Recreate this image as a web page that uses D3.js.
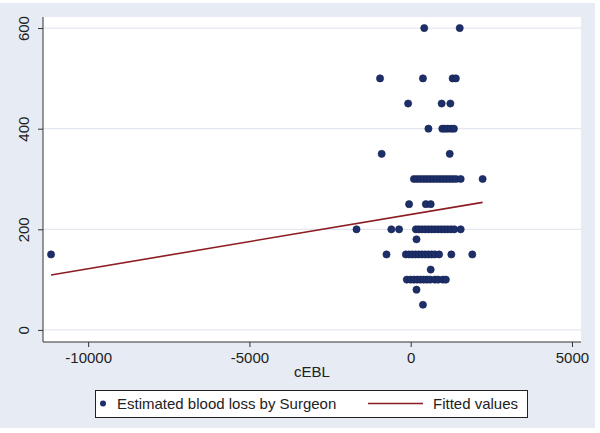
<!DOCTYPE html>
<html><head><meta charset="utf-8">
<script src="https://cdn.jsdelivr.net/npm/d3@7"></script>
<style>body{margin:0;background:#ffffff;}svg{display:block;}</style>
</head><body>
<svg id="c" width="600" height="433"></svg>
<script>
// Data: estimated blood loss by surgeon (y) versus cEBL (x)
const yLevels = [600, 500, 450, 400, 350, 300, 250, 200, 180, 150, 120, 100, 80, 50];
const xByLevel = [
  [420, 1520],
  [-950, 380, 1300, 1400],
  [-80, 960, 1230],
  [550, 980, 1060, 1150, 1250, 1340],
  [-900, 1210],
  [100, 200, 300, 400, 500, 600, 700, 800, 900, 1000, 1100, 1200, 1300, 1400, 1550, 2230],
  [-50, 470, 620],
  [-1680, -600, -360, 160, 250, 350, 450, 550, 650, 750, 850, 950, 1050, 1150, 1250, 1350, 1550],
  [180],
  [-11150, -750, -150, -50, 50, 150, 250, 350, 450, 550, 650, 750, 880, 1260, 1910],
  [620],
  [-120, 0, 100, 200, 300, 400, 500, 600, 750, 850, 1000, 1090],
  [180],
  [380]
];
const fitX = [-11150, 2230];
const fitIntercept = 229.5;
const fitSlope = 0.01078;
const xTicks = [-10000, -5000, 0, 5000];
const yTicks = [0, 200, 400, 600];
const xLabel = "cEBL";
const legendLabels = ["Estimated blood loss by Surgeon", "Fitted values"];

const points = [];
yLevels.forEach((y, i) => xByLevel[i].forEach(x => points.push({x, y})));

const svg = d3.select("#c");
const L = 43, R = 581, T = 17, B = 342;
const x = d3.scaleLinear().domain([-11400, 5280]).range([L, R]);
const y = d3.scaleLinear().domain([-24, 622]).range([B, T]);
const font = "'Liberation Sans', Arial, sans-serif";
const fmt = d => String(d);

svg.append("rect").attr("x", 0).attr("y", 3).attr("width", 595).attr("height", 425).attr("fill", "#e7ebf3");
svg.append("rect").attr("x", L).attr("y", T).attr("width", R - L).attr("height", B - T).attr("fill", "#ffffff");

// grid
svg.append("g").selectAll("line").data(yTicks).join("line")
  .attr("x1", L).attr("x2", R).attr("y1", d => y(d)).attr("y2", d => y(d))
  .attr("stroke", "#e3e8f0").attr("stroke-width", 1.2);

// axes
const xAxis = svg.append("g").attr("transform", `translate(0,${B})`)
  .call(d3.axisBottom(x).tickValues(xTicks).tickSize(5).tickPadding(5).tickFormat(fmt));
const yAxis = svg.append("g").attr("transform", `translate(${L},0)`)
  .call(d3.axisLeft(y).tickValues(yTicks).tickSize(5).tickPadding(4).tickFormat(fmt));
[xAxis, yAxis].forEach(g => {
  g.select(".domain").remove();
  g.selectAll("line").attr("stroke", "#333");
  g.selectAll("text").attr("fill", "#222").style("font-family", font).style("font-size", "15px");
});
yAxis.selectAll("text").attr("text-anchor", "middle")
  .attr("x", null).attr("dy", null).attr("y", 0)
  .attr("transform", "translate(-14,0) rotate(-90)");
svg.append("line").attr("x1", L).attr("x2", L).attr("y1", T).attr("y2", B).attr("stroke", "#333");
svg.append("line").attr("x1", L).attr("x2", R).attr("y1", B).attr("y2", B).attr("stroke", "#333");

svg.append("text").attr("x", (L + R) / 2).attr("y", 377).attr("text-anchor", "middle")
  .style("font-family", font).style("font-size", "15px").attr("fill", "#222").text(xLabel);

// points
svg.append("g").selectAll("circle").data(points).join("circle")
  .attr("cx", d => x(d.x)).attr("cy", d => y(d.y)).attr("r", 3.6)
  .attr("fill", "#1d2f6a").attr("stroke", "#15224f").attr("stroke-width", 0.6);

// fitted line
const line = d3.line().x(d => x(d)).y(d => y(fitIntercept + fitSlope * d));
svg.append("path").datum(fitX).attr("d", line).attr("fill", "none")
  .attr("stroke", "#8c1c22").attr("stroke-width", 1.6);

// legend
const lg = svg.append("g");
lg.append("rect").attr("x", 95.5).attr("y", 390.5).attr("width", 432).attr("height", 27)
  .attr("fill", "#fff").attr("stroke", "#222").attr("stroke-width", 1);
lg.append("circle").attr("cx", 103).attr("cy", 403.5).attr("r", 3).attr("fill", "#1d2f6a");
lg.append("text").attr("x", 117).attr("y", 409).style("font-family", font).style("font-size", "15px")
  .attr("fill", "#222").text(legendLabels[0]);
lg.append("line").attr("x1", 368).attr("x2", 423).attr("y1", 403.5).attr("y2", 403.5)
  .attr("stroke", "#8c1c22").attr("stroke-width", 1.6);
lg.append("text").attr("x", 433).attr("y", 409).style("font-family", font).style("font-size", "15px")
  .attr("fill", "#222").text(legendLabels[1]);
</script>
</body></html>
